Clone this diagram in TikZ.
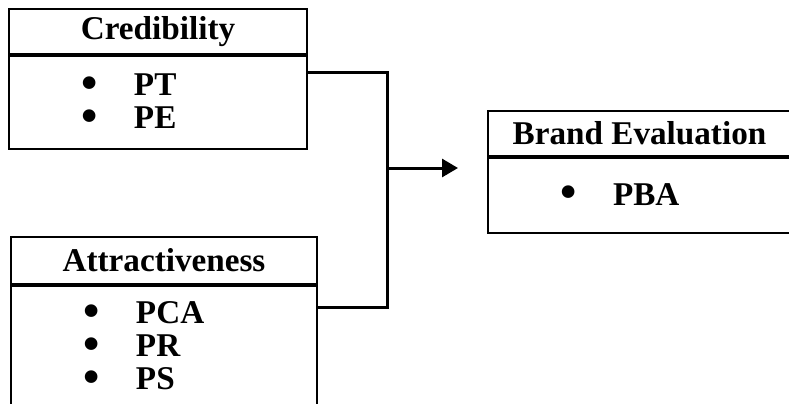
\documentclass[tikz,border=0pt]{standalone}
\usepackage{fontspec}
\setmainfont{Liberation Serif}
\usepackage{graphicx}
\usepackage{tikz}
\usetikzlibrary{arrows.meta, positioning}

\newcommand{\pitem}[1]{\hspace*{36pt}\makebox[26.5pt][l]{\raisebox{-1.3pt}{\scalebox{1.4}{\textbullet}}}#1}

\tikzset{
	headbox/.style={draw, line width=1pt, anchor=north west, minimum width=#1, minimum height=22.5pt, inner sep=0pt, font=\bfseries\fontsize{16.6}{18}\selectfont},
	bodybox/.style={draw, line width=1pt, anchor=north west, text width=#1, inner xsep=0pt, align=left, font=\bfseries\fontsize{16.6}{16.5}\selectfont},
	link/.style={draw=black, line width=1.5pt}
}

\begin{document}
\begin{tikzpicture}[x=0.5pt, y=-0.5pt]
	\useasboundingbox (0,0) rectangle (789,403);

	\node[headbox=149pt] (credHead) at (8,8) {Credibility};
	\node[bodybox=149pt, minimum height=46.5pt] (credBody) at (credHead.south west) {\pitem{PT}\\\pitem{PE}};

	\node[headbox=153pt, minimum height=23.5pt] (attrHead) at (10,236) {Attractiveness};
	\node[bodybox=153pt, minimum height=61pt] (attrBody) at (attrHead.south west) {\pitem{PCA}\\\pitem{PR}\\\pitem{PS}};

	\node[headbox=151.5pt] (brandHead) at (487,110) {Brand Evaluation};
	\node[bodybox=151.5pt, minimum height=37.5pt] (brandBody) at (brandHead.south west) {\pitem{PBA}};

	\coordinate (junction) at (387,168);
	\coordinate (arrowTip) at (458,168);

	\draw[link] ([yshift=-8.5pt]credBody.north east) -| (junction) |- ([yshift=-11pt]attrBody.north east);
	\draw[link, -{Triangle[length=8pt, width=9pt]}] (junction) -- (arrowTip);
\end{tikzpicture}
\end{document}
